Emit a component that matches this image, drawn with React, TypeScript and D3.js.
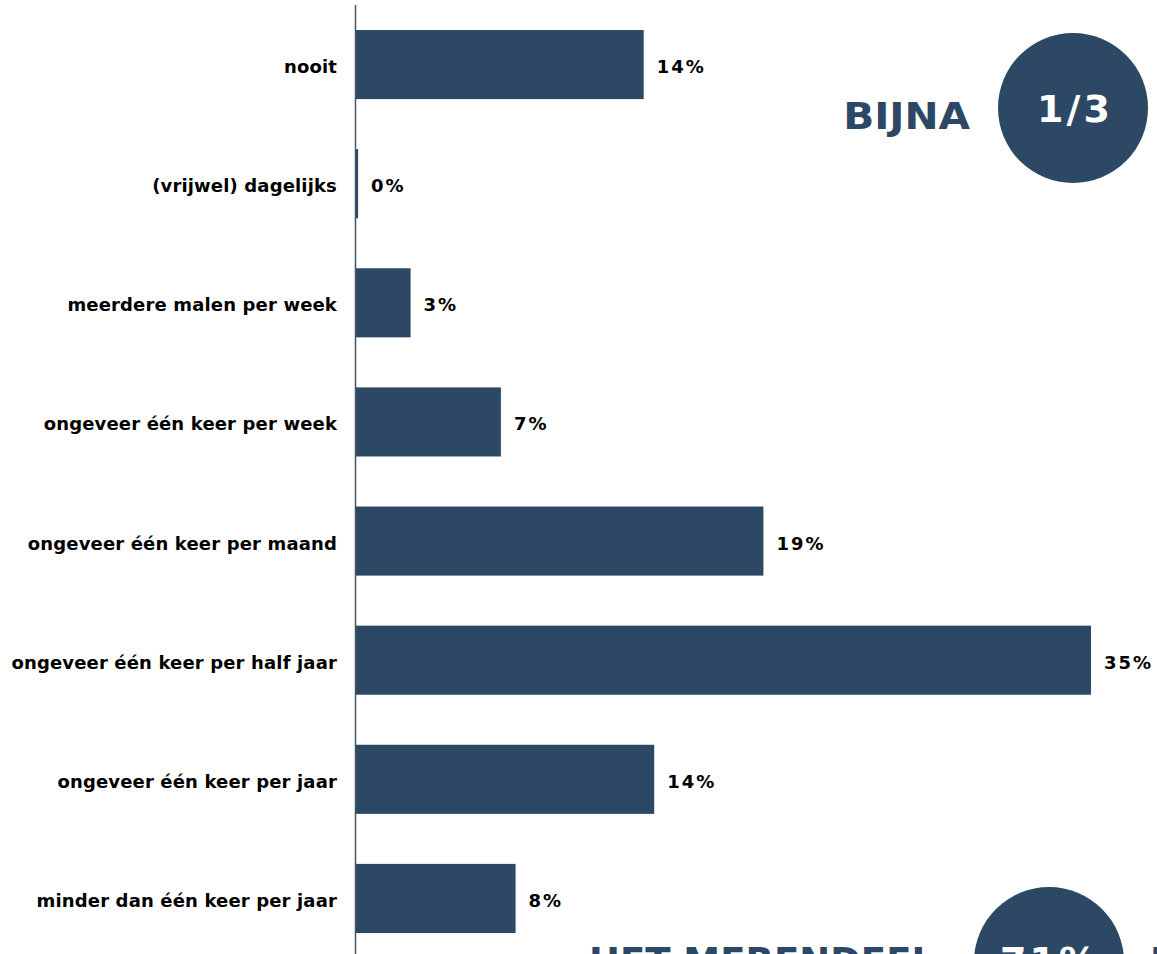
import React from "react";
import * as d3 from "d3";

const categories = [
  "nooit",
  "(vrijwel) dagelijks",
  "meerdere malen per week",
  "ongeveer één keer per week",
  "ongeveer één keer per maand",
  "ongeveer één keer per half jaar",
  "ongeveer één keer per jaar",
  "minder dan één keer per jaar",
];
const values = [13.7, 0.1, 2.6, 6.9, 19.4, 35.0, 14.2, 7.6];
const calloutTop = { word: "BIJNA", figure: "1/3" };
const calloutBottom = { word: "HET MERENDEEL", figure: "71%", tail: "IN" };

const W = 1157;
const H = 954;
const COLOR = "#2d4864";
const FONT = "'DejaVu Sans', Verdana, sans-serif";

export default function App() {
  const y = d3
    .scaleBand<string>()
    .domain(categories)
    .range([5, 958])
    .paddingInner(0.42)
    .paddingOuter(0.21);
  const x = d3.scaleLinear().domain([0, 35]).range([356, 1091]);

  return (
    <svg
      width={W}
      height={H}
      style={{ position: "absolute", left: 0, top: 0, background: "#fff" }}
      fontFamily={FONT}
    >
      {categories.map((c, i) => {
        const yy = y(c)!;
        const bw = y.bandwidth();
        const cy = yy + bw / 2 + 2;
        return (
          <g key={c}>
            <rect x={x(0)} y={yy} width={x(values[i]) - x(0)} height={bw} fill={COLOR} />
            <text
              x={337}
              y={cy}
              textAnchor="end"
              dominantBaseline="central"
              fontSize={18}
              letterSpacing={0.15}
              fontWeight="bold"
              fill="#000"
            >
              {c}
            </text>
            <text
              x={x(values[i]) + 13}
              y={cy}
              dominantBaseline="central"
              fontSize={18}
              letterSpacing={2}
              fontWeight="bold"
              fill="#000"
            >
              {Math.round(values[i]) + "%"}
            </text>
          </g>
        );
      })}
      <line x1={355.5} x2={355.5} y1={5} y2={H} stroke="#44546a" strokeWidth={1.5} />

      <g transform="translate(970,129) scale(1.1,1)">
        <text x={0} y={0} textAnchor="end" fontSize={37} fontWeight="bold" fill={COLOR}>
          {calloutTop.word}
        </text>
      </g>
      <circle cx={1073} cy={108} r={75} fill={COLOR} />
      <text x={1075} y={122} textAnchor="middle" fontSize={38} letterSpacing={3} fontWeight="bold" fill="#fff">
        {calloutTop.figure}
      </text>

      <text x={935} y={974} textAnchor="end" fontSize={37} fontWeight="bold" fill={COLOR}>
        {calloutBottom.word}
      </text>
      <circle cx={1049} cy={962} r={75} fill={COLOR} />
      <text x={1000} y={974} fontSize={38} letterSpacing={3} fontWeight="bold" fill="#fff">
        {calloutBottom.figure}
      </text>
      <text x={1150} y={974} fontSize={37} fontWeight="bold" fill={COLOR}>
        {calloutBottom.tail}
      </text>
    </svg>
  );
}
